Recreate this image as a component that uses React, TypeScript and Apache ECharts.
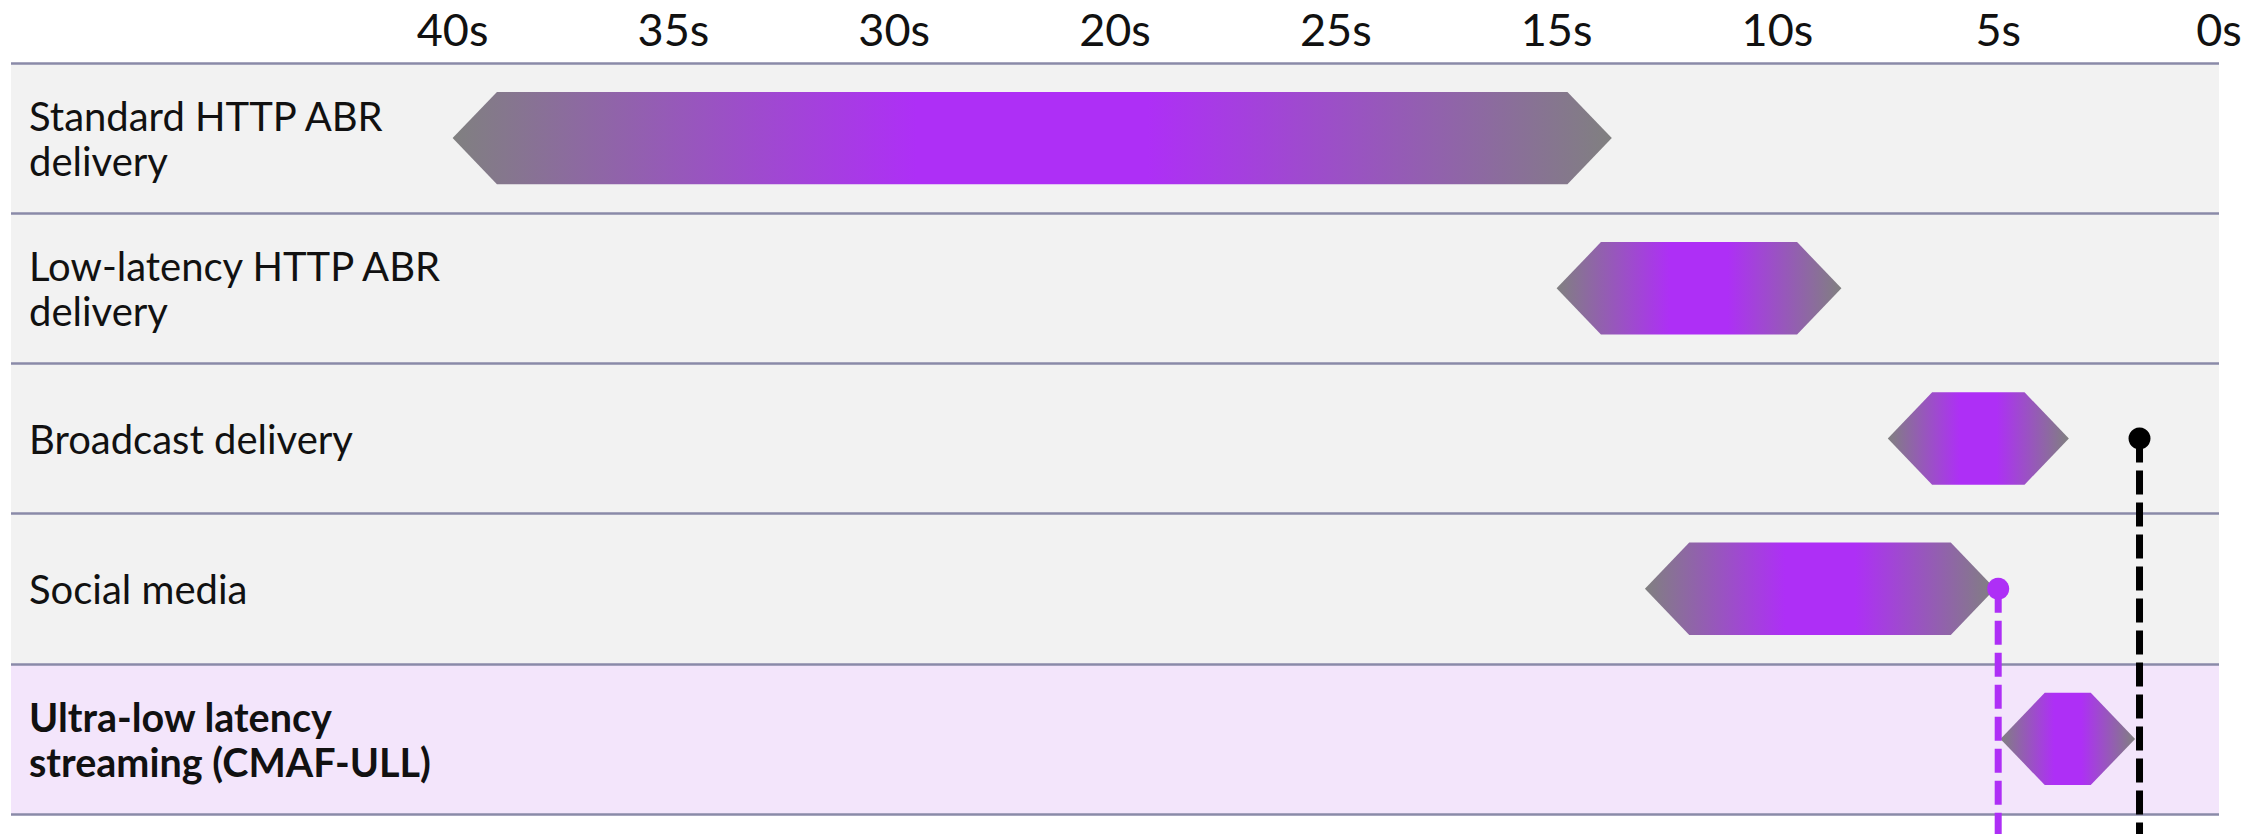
import React, { useEffect, useRef } from "react";
import * as echarts from "echarts";

// ---- data ----
const categories = [
  "Standard HTTP ABR\ndelivery",
  "Low-latency HTTP ABR\ndelivery",
  "Broadcast delivery",
  "Social media",
  "Ultra-low latency\nstreaming (CMAF-ULL)",
];
const highlightedCategory = "Ultra-low latency\nstreaming (CMAF-ULL)";
const rangeStart = [40, 15, 7.5, 13, 4.95];
const rangeEnd = [13.75, 8.55, 3.4, 5.07, 1.9];
const tickValues = [40, 35, 30, 25, 20, 15, 10, 5, 0];
const tickLabels = ["40s", "35s", "30s", "20s", "25s", "15s", "10s", "5s", "0s"];
const markerRows = [2, 3];
const markerValues = [1.8, 5];

// ---- styles ----
const GRAY = "#808080";
const PURPLE = "#ae2ff6";
const markerColors = ["#000000", "#ae2ff6"];
const TEXT = "#111111";
const FONT = "Lato, 'Open Sans', sans-serif";

export default function App() {
  const ref = useRef<HTMLDivElement>(null);

  useEffect(() => {
    document.body.style.margin = "0";
    if (!ref.current) return;
    const chart = echarts.init(ref.current, undefined, { renderer: "svg" });

    const hexData = categories.map((_, i) => [rangeStart[i], rangeEnd[i], i]);
    const markerData = markerRows.map((r, i) => [markerValues[i], r]);

    chart.setOption({
      animation: false,
      backgroundColor: "#ffffff",
      textStyle: { fontFamily: FONT },
      grid: {
        left: 11,
        right: 48,
        top: 63,
        bottom: 20,
        containLabel: false,
        outerBoundsMode: "none",
      },
      xAxis: {
        type: "value",
        min: 0,
        max: 50,
        interval: 5,
        inverse: true,
        position: "top",
        axisLine: { show: false },
        axisTick: { show: false },
        splitLine: { show: false },
        axisLabel: {
          customValues: tickValues,
          formatter: (v: number) => {
            const idx = tickValues.indexOf(v);
            return idx >= 0 ? tickLabels[idx] : "";
          },
          fontSize: 45,
          color: TEXT,
          fontFamily: FONT,
          margin: 12,
        },
      },
      yAxis: {
        type: "category",
        data: categories,
        inverse: true,
        axisLine: { show: false },
        axisTick: { show: false },
        splitLine: {
          show: true,
          lineStyle: { color: "#8a8aa8", width: 2.5 },
        },
        splitArea: {
          show: true,
          areaStyle: {
            color: ["#f2f2f2", "#f2f2f2", "#f2f2f2", "#f2f2f2", "#f3e5fb"],
          },
        },
        axisLabel: {
          inside: true,
          margin: 18,
          align: "left",
          verticalAlign: "middle",
          fontSize: 40,
          lineHeight: 45,
          color: TEXT,
          fontFamily: FONT,
          formatter: (v: string) =>
            v === highlightedCategory
              ? v
                  .split("\n")
                  .map((l) => `{b|${l}}`)
                  .join("\n")
              : v,
          rich: {
            b: {
              fontWeight: "bold",
              fontSize: 39.5,
              lineHeight: 45,
              color: TEXT,
              fontFamily: FONT,
            },
          },
        },
        z: 0,
      },
      series: [
        {
          type: "custom",
          name: "latency",
          data: hexData,
          encode: { x: [0, 1], y: 2 },
          clip: false,
          z: 2,
          renderItem: (params: any, api: any) => {
            const row = api.value(2);
            const s = api.coord([api.value(0), row]);
            const e = api.coord([api.value(1), row]);
            const h = api.size([0, 1])[1] * 0.615;
            const inset = h * 0.48;
            const cy = s[1];
            return {
              type: "polygon",
              shape: {
                points: [
                  [s[0], cy],
                  [s[0] + inset, cy - h / 2],
                  [e[0] - inset, cy - h / 2],
                  [e[0], cy],
                  [e[0] - inset, cy + h / 2],
                  [s[0] + inset, cy + h / 2],
                ],
              },
              style: {
                fill: new echarts.graphic.LinearGradient(0, 0, 1, 0, [
                  { offset: 0, color: GRAY },
                  { offset: 0.4, color: PURPLE },
                  { offset: 0.6, color: PURPLE },
                  { offset: 1, color: GRAY },
                ]),
              },
            };
          },
        },
        {
          type: "custom",
          name: "markers",
          data: markerData,
          encode: { x: 0, y: 1 },
          clip: false,
          z: 3,
          renderItem: (params: any, api: any) => {
            const p = api.coord([api.value(0), api.value(1)]);
            const color = markerColors[params.dataIndex];
            return {
              type: "group",
              children: [
                {
                  type: "line",
                  shape: { x1: p[0], y1: p[1], x2: p[0], y2: api.getHeight() },
                  style: { stroke: color, lineWidth: 7, lineDash: [24, 8] },
                },
                {
                  type: "circle",
                  shape: { cx: p[0], cy: p[1], r: 11 },
                  style: { fill: color },
                },
              ],
            };
          },
        },
      ],
    });

    return () => chart.dispose();
  }, []);

  return <div ref={ref} style={{ width: 2267, height: 834 }} />;
}
